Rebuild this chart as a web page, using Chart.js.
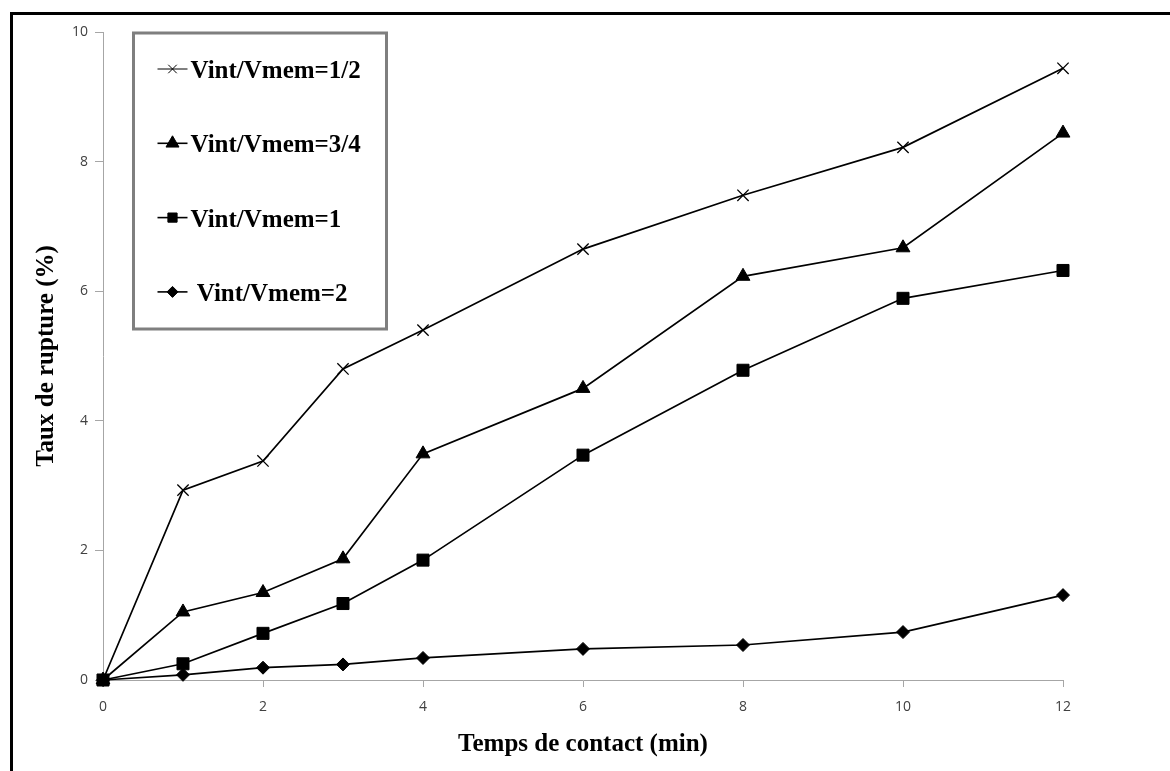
<!DOCTYPE html>
<html>
<head>
<meta charset="utf-8">
<title>Taux de rupture</title>
<script src="https://cdn.jsdelivr.net/npm/chart.js@4.4.1/dist/chart.umd.min.js"></script>
<style>
  html, body { margin: 0; padding: 0; background: #fff; overflow: hidden; }
  #wrap { position: relative; width: 1170px; height: 771px; }
  #frame { position: absolute; left: 10px; top: 12px; width: 1200px; height: 800px; border: 3px solid #000; pointer-events: none; }
</style>
</head>
<body>
<div id="wrap">
  <canvas id="myChart" width="1170" height="771"></canvas>
  <div id="frame"></div>
</div>
<script>
// contact time (min) and breakage rate (%) for each volume ratio
var temps = [0, 1, 2, 3, 4, 6, 8, 10, 12];
var ratioLabels = ['Vint/Vmem=1/2', 'Vint/Vmem=3/4', 'Vint/Vmem=1', ' Vint/Vmem=2'];
var tauxDemi = [0, 2.93, 3.38, 4.80, 5.40, 6.65, 7.48, 8.22, 9.44];
var tauxTroisQuarts = [0, 1.05, 1.35, 1.87, 3.49, 4.50, 6.23, 6.67, 8.44];
var tauxUn = [0, 0.25, 0.72, 1.18, 1.85, 3.47, 4.78, 5.89, 6.32];
var tauxDeux = [0, 0.08, 0.19, 0.24, 0.34, 0.48, 0.54, 0.74, 1.31];
var xTicks = [0, 2, 4, 6, 8, 10, 12];
var yTicks = [0, 2, 4, 6, 8, 10];

var series = [tauxDemi, tauxTroisQuarts, tauxUn, tauxDeux];
var styles = ['crossRot', 'triangle', 'rect', 'rectRot'];
var radii = [8, 8, 8.5, 6.5];
var legendRadii = [6, 7.5, 6.5, 5.5];

function points(values) {
    return values.map(function (v, i) { return { x: temps[i], y: v }; });
}

var datasets = series.map(function (values, i) {
    return {
        label: ratioLabels[i],
        data: points(values),
        showLine: true,
        borderColor: '#000',
        backgroundColor: '#000',
        borderWidth: 1.7,
        pointStyle: styles[i],
        pointRadius: radii[i],
        pointBorderWidth: styles[i] === 'crossRot' ? 1.3 : 1,
        pointBorderColor: '#000',
        pointBackgroundColor: '#000',
        clip: false
    };
});

// boxed legend sitting inside the plot area, top-left
var legendBox = {
    id: 'legendBox',
    afterDraw: function (chart) {
        var ctx = chart.ctx;
        var area = chart.chartArea;
        var left = area.left + 30.5;
        var top = area.top + 1;
        ctx.save();
        ctx.strokeStyle = '#7f7f7f';
        ctx.lineWidth = 3;
        ctx.strokeRect(left, top, 253, 296);
        ctx.font = 'bold 25px "Liberation Serif", "Times New Roman", serif';
        ctx.textBaseline = 'alphabetic';
        chart.data.datasets.forEach(function (ds, i) {
            var y = top + 36 + i * 74.3;
            ctx.strokeStyle = '#000';
            ctx.fillStyle = '#000';
            ctx.lineWidth = i === 0 ? 1 : 1.6;
            ctx.beginPath();
            ctx.moveTo(left + 24, y);
            ctx.lineTo(left + 54, y);
            ctx.stroke();
            ctx.lineWidth = 1;
            Chart.helpers.drawPoint(ctx, {
                pointStyle: ds.pointStyle,
                radius: legendRadii[i],
                borderWidth: 1,
                rotation: 0
            }, left + 39, y);
            ctx.fillText(ds.label, left + 57, y + 9);
        });
        ctx.restore();
    }
};

var ctx = document.getElementById('myChart').getContext('2d');
var myChart = new Chart(ctx, {
    type: 'scatter',
    data: { datasets: datasets },
    plugins: [legendBox],
    options: {
        responsive: false,
        animation: false,
        layout: { padding: { left: 0, top: 32, right: 107, bottom: 0 } },
        plugins: {
            legend: { display: false },
            tooltip: { enabled: false }
        },
        scales: {
            x: {
                type: 'linear',
                min: xTicks[0],
                max: xTicks[xTicks.length - 1],
                afterFit: function (scale) { scale.height = 91; },
                afterBuildTicks: function (scale) {
                    scale.ticks = xTicks.map(function (v) { return { value: v }; });
                },
                grid: { drawOnChartArea: false, drawTicks: true, tickLength: 7, color: '#a6a6a6' },
                border: { display: true, color: '#a6a6a6', width: 1 },
                ticks: {
                    padding: 12,
                    color: '#404040',
                    font: { family: '"Open Sans", sans-serif', size: 14 }
                },
                title: {
                    display: true,
                    text: 'Temps de contact (min)',
                    color: '#000',
                    padding: { top: 0, bottom: 11 },
                    font: { family: '"Liberation Serif", "Times New Roman", serif', size: 25, weight: 'bold', lineHeight: 1.2 }
                }
            },
            y: {
                min: yTicks[0],
                max: yTicks[yTicks.length - 1],
                afterFit: function (scale) { scale.width = 103; },
                afterBuildTicks: function (scale) {
                    scale.ticks = yTicks.map(function (v) { return { value: v }; });
                },
                grid: { drawOnChartArea: false, drawTicks: true, tickLength: 8, color: '#a6a6a6' },
                border: { display: true, color: '#a6a6a6', width: 1 },
                ticks: {
                    padding: 7,
                    color: '#404040',
                    font: { family: '"Open Sans", sans-serif', size: 14 }
                },
                title: {
                    display: true,
                    text: 'Taux de rupture (%)',
                    color: '#000',
                    padding: { top: 32, bottom: 0 },
                    font: { family: '"Liberation Serif", "Times New Roman", serif', size: 25, weight: 'bold', lineHeight: 1.2 }
                }
            }
        }
    }
});
</script>
</body>
</html>
